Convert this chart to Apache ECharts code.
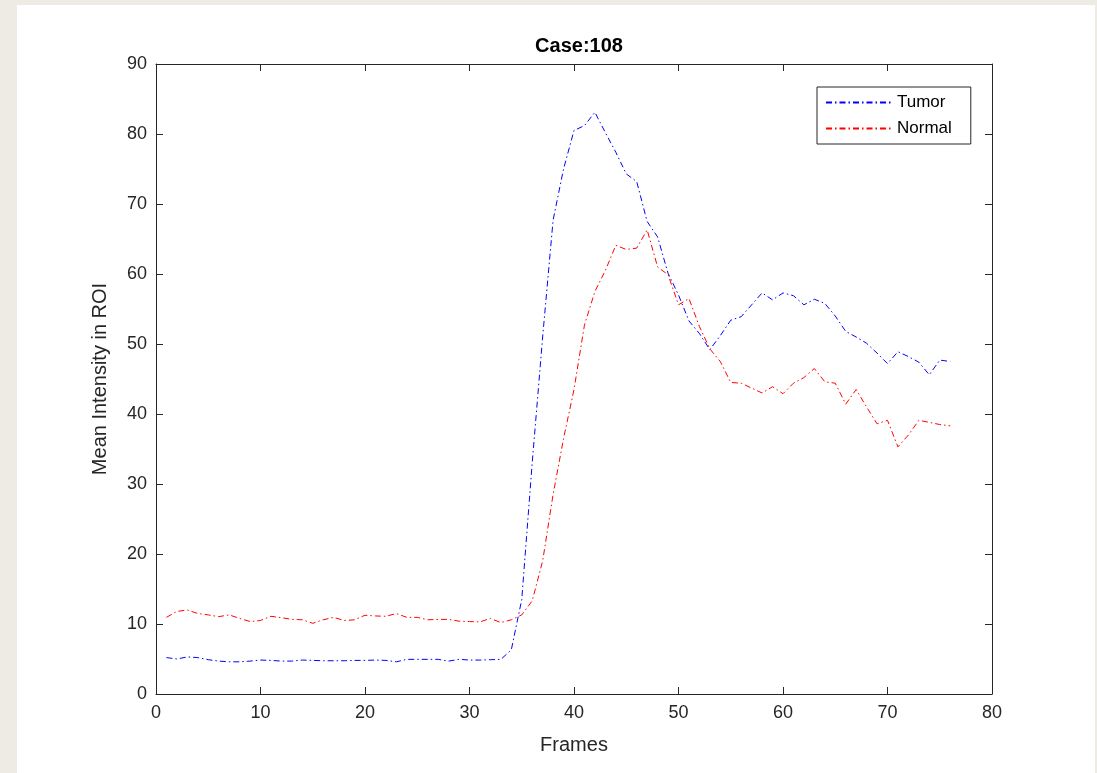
<!DOCTYPE html>
<html>
<head>
<meta charset="utf-8">
<script src="https://cdn.jsdelivr.net/npm/echarts@6/dist/echarts.min.js"></script>
<style>
  html, body { margin: 0; padding: 0; background: #eeebe4; }
  #paper { position: absolute; left: 17px; top: 5px; width: 1078px; height: 768px; background: #ffffff; }
  #chart { position: absolute; left: 0; top: 0; width: 1097px; height: 773px; }
</style>
</head>
<body>
<div id="paper"></div>
<div id="chart"></div>
<script>
const titleText = 'Case:108';
const xName = 'Frames';
const yName = 'Mean Intensity in ROI';
const seriesNames = ['Tumor', 'Normal'];
const frames = [1,2,3,4,5,6,7,8,9,10,11,12,13,14,15,16,17,18,19,20,21,22,23,24,25,26,27,28,29,30,31,32,33,34,35,36,37,38,39,40,41,42,43,44,45,46,47,48,49,50,51,52,53,54,55,56,57,58,59,60,61,62,63,64,65,66,67,68,69,70,71,72,73,74,75,76];
const tumor = [5.2,5.0,5.3,5.2,4.9,4.7,4.6,4.6,4.7,4.85,4.8,4.7,4.7,4.85,4.8,4.75,4.75,4.75,4.8,4.8,4.85,4.8,4.6,4.95,4.95,4.95,4.95,4.7,4.95,4.85,4.85,4.9,4.95,6.3,13.5,33,51,67.7,75,80.5,81.2,83.1,80.2,77.4,74.3,73.2,67.5,65.3,60.1,57,53.3,51.5,49.2,51.2,53.4,53.9,55.6,57.3,56.3,57.3,56.9,55.6,56.4,55.8,54,51.8,51,50.1,48.7,47.2,48.9,48.2,47.4,45.6,47.7,47.5];
const normal = [10.95,11.8,12.0,11.5,11.3,11.05,11.3,10.8,10.35,10.5,11.1,10.9,10.67,10.6,10.1,10.6,10.95,10.5,10.6,11.25,11.15,11.1,11.5,10.95,10.95,10.6,10.65,10.67,10.4,10.35,10.3,10.8,10.2,10.6,11.3,13.3,19,28.5,36.5,43.5,52.7,57.5,60.5,64.1,63.5,63.7,66.3,61,59.9,55.6,56.5,52.5,49.3,47.5,44.5,44.4,43.7,43.0,43.9,42.9,44.4,45.2,46.5,44.6,44.4,41.4,43.5,41,38.6,39.1,35.3,37,39.1,38.8,38.5,38.3];

const FONT = '"Liberation Sans", Arial, Helvetica, sans-serif';
const AX = '#262626';
const dashDot = [6, 3, 1.5, 3];

function pairs(xs, ys) { return xs.map((x, i) => [x, ys[i]]); }

const chart = echarts.init(document.getElementById('chart'), null, { renderer: 'canvas' });

const baseAxis = {
  axisLine: { show: true, onZero: false, lineStyle: { color: AX, width: 1 } },
  axisTick: { show: true, inside: true, length: 7, lineStyle: { color: AX, width: 1 } },
  splitLine: { show: false }
};

chart.setOption({
  backgroundColor: 'transparent',
  animation: false,
  title: {
    text: titleText,
    left: 574,
    top: 31,
    textAlign: 'center',
    textStyle: { fontFamily: FONT, fontSize: 20, fontWeight: 'bold', color: '#000' }
  },
  legend: {
    data: seriesNames,
    orient: 'vertical',
    left: 817,
    top: 87,
    padding: [7, 19, 7, 8],
    itemWidth: 66,
    itemHeight: 14,
    itemGap: 9,
    borderColor: '#262626',
    borderWidth: 1,
    backgroundColor: '#fff',
    itemStyle: { color: 'rgba(0,0,0,0)', borderColor: 'rgba(0,0,0,0)', borderWidth: 0, opacity: 0 },
    textStyle: { fontFamily: FONT, fontSize: 17, color: '#000' }
  },
  grid: { left: 156, right: 105, top: 64, bottom: 79, containLabel: false },
  xAxis: [
    Object.assign({}, baseAxis, {
      type: 'value', min: 0, max: 80, interval: 10, position: 'bottom',
      name: xName, nameLocation: 'middle', nameGap: 41,
      nameTextStyle: { fontFamily: FONT, fontSize: 20, color: AX },
      axisLabel: { show: true, margin: 10, fontFamily: FONT, fontSize: 18, color: AX }
    }),
    Object.assign({}, baseAxis, {
      type: 'value', min: 0, max: 80, interval: 10, position: 'top',
      axisLabel: { show: false }
    })
  ],
  yAxis: [
    Object.assign({}, baseAxis, {
      type: 'value', min: 0, max: 90, interval: 10, position: 'left',
      name: yName, nameLocation: 'middle', nameGap: 46,
      nameTextStyle: { fontFamily: FONT, fontSize: 20, color: AX },
      axisLabel: { show: true, margin: 9, fontFamily: FONT, fontSize: 18, color: AX }
    }),
    Object.assign({}, baseAxis, {
      type: 'value', min: 0, max: 90, interval: 10, position: 'right',
      axisLabel: { show: false }
    })
  ],
  series: [
    {
      name: seriesNames[0], type: 'line', xAxisIndex: 0, yAxisIndex: 0,
      data: pairs(frames, tumor), symbol: 'none', smooth: false,
      lineStyle: { color: '#0000ff', width: 1, type: dashDot },
      itemStyle: { color: '#0000ff' }
    },
    {
      name: seriesNames[1], type: 'line', xAxisIndex: 0, yAxisIndex: 0,
      data: pairs(frames, normal), symbol: 'none', smooth: false,
      lineStyle: { color: '#ff0000', width: 1, type: dashDot },
      itemStyle: { color: '#ff0000' }
    }
  ]
});
</script>
</body>
</html>
